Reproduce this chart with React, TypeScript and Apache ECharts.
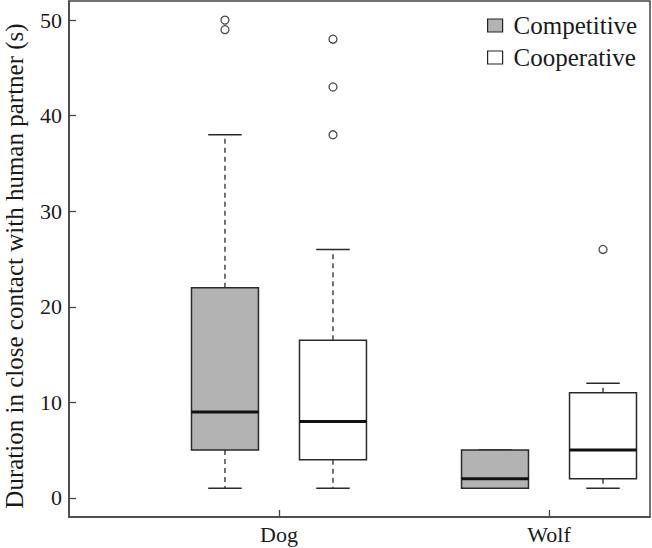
import React, { useEffect, useRef } from 'react';
import * as echarts from 'echarts';

const categories = ['Dog', 'Wolf'];
const groupNames = ['Competitive', 'Cooperative'];
// [lower whisker, Q1, median, Q3, upper whisker]
const competitiveStats = [
  [1, 5, 9, 22, 38],
  [1, 1, 2, 5, 5],
];
const cooperativeStats = [
  [1, 4, 8, 16.5, 26],
  [1, 2, 5, 11, 12],
];
const competitiveOutliers = [[49, 50], []];
const cooperativeOutliers = [[38, 43, 48], [26]];
const yTicks = [0, 10, 20, 30, 40, 50];
const yTitle = 'Duration in close contact with human partner (s)';

const FONT = 'Liberation Serif';
const categoryCenters = [1.5, 4];
const groupOffsets = [-0.5, 0.5];
const groupFills = ['#b3b3b3', '#ffffff'];
const BOX_W = 0.62;

function buildBoxData(stats: number[][], gi: number) {
  return stats.map((s, ci) => [categoryCenters[ci] + groupOffsets[gi], ...s]);
}
function buildOutlierData(out: number[][], gi: number) {
  const res: number[][] = [];
  out.forEach((vals, ci) => vals.forEach((v) => res.push([categoryCenters[ci] + groupOffsets[gi], v])));
  return res;
}

function makeRenderItem(fill: string) {
  return (params: any, api: any) => {
    const x = api.value(0);
    const lo = api.value(1), q1 = api.value(2), med = api.value(3), q3 = api.value(4), hi = api.value(5);
    const w = api.size([BOX_W, 0])[0];
    const half = w / 2;
    const capHalf = w / 4;
    const pLo = api.coord([x, lo]);
    const pQ1 = api.coord([x, q1]);
    const pMed = api.coord([x, med]);
    const pQ3 = api.coord([x, q3]);
    const pHi = api.coord([x, hi]);
    const cx = pMed[0];
    const stroke = '#2a2a2a';
    const dash = { stroke, lineWidth: 1.3, lineDash: [5, 4] };
    const solid = { stroke, lineWidth: 1.5 };
    return {
      type: 'group',
      children: [
        { type: 'line', shape: { x1: cx, y1: pQ3[1], x2: cx, y2: pHi[1] }, style: dash },
        { type: 'line', shape: { x1: cx, y1: pQ1[1], x2: cx, y2: pLo[1] }, style: dash },
        { type: 'line', shape: { x1: cx - capHalf, y1: pHi[1], x2: cx + capHalf, y2: pHi[1] }, style: solid },
        { type: 'line', shape: { x1: cx - capHalf, y1: pLo[1], x2: cx + capHalf, y2: pLo[1] }, style: solid },
        {
          type: 'rect',
          shape: { x: cx - half, y: pQ3[1], width: w, height: pQ1[1] - pQ3[1] },
          style: { fill, stroke, lineWidth: 1.5 },
        },
        { type: 'line', shape: { x1: cx - half, y1: pMed[1], x2: cx + half, y2: pMed[1] }, style: { stroke: '#111', lineWidth: 3 } },
      ],
    };
  };
}

export default function App() {
  const ref = useRef<HTMLDivElement>(null);
  useEffect(() => {
    if (!ref.current) return;
    const chart = echarts.init(ref.current, null, { renderer: 'svg' });
    const statsList = [competitiveStats, cooperativeStats];
    const outList = [competitiveOutliers, cooperativeOutliers];
    const series: any[] = [];
    groupNames.forEach((name, gi) => {
      series.push({
        name,
        type: 'custom',
        renderItem: makeRenderItem(groupFills[gi]),
        encode: { x: 0, y: [1, 2, 3, 4, 5] },
        itemStyle: { color: groupFills[gi], borderColor: '#222', borderWidth: 1.2 },
        data: buildBoxData(statsList[gi], gi),
        z: 2,
      });
    });
    groupNames.forEach((name, gi) => {
      series.push({
        name: name + ' outliers',
        type: 'scatter',
        symbol: 'circle',
        symbolSize: 8,
        itemStyle: { color: '#fff', borderColor: '#222', borderWidth: 1.3 },
        data: buildOutlierData(outList[gi], gi),
        z: 3,
      });
    });
    const near = (arr: number[], v: number) => arr.findIndex((a) => Math.abs(a - v) < 1e-6);
    chart.setOption({
      animation: false,
      backgroundColor: '#ffffff',
      textStyle: { fontFamily: FONT },
      grid: {
        left: 69, right: 2, top: 1, bottom: 31, show: true, borderColor: '#444', borderWidth: 1.5,
        containLabel: false, outerBoundsMode: 'none',
      },
      legend: {
        data: groupNames,
        orient: 'vertical',
        left: 482,
        top: 8,
        icon: 'rect',
        itemWidth: 15,
        itemHeight: 13,
        itemGap: 7,
        itemStyle: { borderColor: '#222', borderWidth: 1.2 },
        textStyle: { fontFamily: FONT, fontSize: 25, color: '#1a1a1a', padding: [0, 0, 0, 6] },
      },
      xAxis: {
        type: 'value',
        min: -0.444,
        max: 4.935,
        splitLine: { show: false },
        axisLine: { show: true, onZero: false, lineStyle: { color: '#444', width: 1.5 } },
        axisTick: { show: true, inside: true, length: 7, customValues: categoryCenters, lineStyle: { color: '#444', width: 1.3 } },
        axisLabel: {
          customValues: categoryCenters,
          formatter: (v: number) => {
            const i = near(categoryCenters, v);
            return i >= 0 ? categories[i] : '';
          },
          fontFamily: FONT,
          fontSize: 22,
          color: '#1a1a1a',
          margin: 6,
        },
      },
      yAxis: {
        type: 'value',
        min: -2,
        max: 52,
        name: yTitle,
        nameLocation: 'middle',
        nameGap: 42,
        nameTextStyle: { fontFamily: FONT, fontSize: 25, color: '#1a1a1a', padding: [0, 14, 0, 0] },
        splitLine: { show: false },
        axisLine: { show: true, onZero: false, lineStyle: { color: '#444', width: 1.5 } },
        axisTick: { show: true, inside: true, length: 7, customValues: yTicks, lineStyle: { color: '#444', width: 1.3 } },
        axisLabel: { customValues: yTicks, fontFamily: FONT, fontSize: 22, color: '#1a1a1a', margin: 7 },
      },
      series,
    });
    return () => chart.dispose();
  }, []);
  return <div ref={ref} style={{ width: 652, height: 548, position: 'absolute', left: 0, top: 0 }} />;
}
